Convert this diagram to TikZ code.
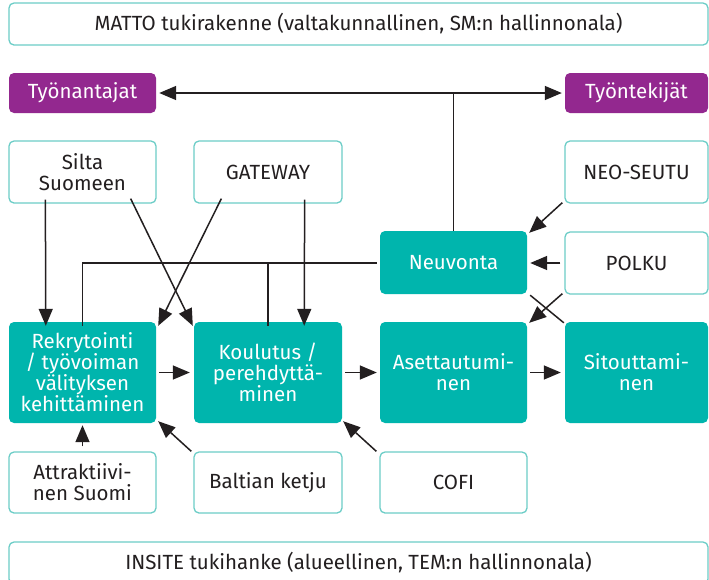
\documentclass[tikz,border=0pt]{standalone}
\usepackage{fontspec}
\setmainfont{Fira Sans}
\usetikzlibrary{arrows.meta,calc}
\definecolor{tealfill}{HTML}{00B5AD}
\definecolor{tealline}{HTML}{6CCDC7}
\definecolor{purp}{HTML}{93288F}
\definecolor{ink}{HTML}{231F20}
\begin{document}
\begin{tikzpicture}[x=1pt,y=-1pt,
  base/.style={rounded corners=5pt,align=center,inner sep=0pt,font=\fontsize{20.5}{21}\selectfont},
  frame/.style={base,draw=tealline,line width=1.3pt,fill=white,text=ink},
  stage/.style={base,fill=tealfill,text=white},
  party/.style={base,fill=purp,text=white},
  conn/.style={draw=ink,line width=1.5pt},
  arr/.style={conn,-{Triangle[length=17pt,width=14pt]}},
  darr/.style={conn,{Triangle[length=17pt,width=14pt]}-{Triangle[length=17pt,width=14pt]}}]
\useasboundingbox (0,0) rectangle (709,579);
\fill[white] (0,0) rectangle (709,579);
\node[frame,minimum width=699pt,minimum height=42pt] (matto) at (358.5,24) {MATTO tukirakenne (valtakunnallinen, SM:n hallinnonala)};
\node[party,minimum width=147pt,minimum height=40pt] (tyonantajat) at (82.5,93) {Työnantajat};
\node[party,minimum width=143pt,minimum height=40pt] (tyontekijat) at (636.5,93) {Työntekijät};
\node[frame,minimum width=147pt,minimum height=62pt] (silta) at (82.5,172) {Silta\\Suomeen};
\node[frame,minimum width=148pt,minimum height=62pt] (gateway) at (268,172) {GATEWAY};
\node[frame,minimum width=143pt,minimum height=62pt] (neo) at (636.5,172) {NEO-SEUTU};
\node[stage,minimum width=147pt,minimum height=63pt] (neuvonta) at (453.5,262.5) {Neuvonta};
\node[frame,minimum width=143pt,minimum height=62pt] (polku) at (636.5,263) {POLKU};
\node[stage,minimum width=147pt,minimum height=101pt] (rek) at (82.5,372.5) {Rekrytointi\\/ työvoiman\\välityksen\\kehittäminen};
\node[stage,minimum width=148pt,minimum height=101pt] (kou) at (268,372.5) {Koulutus /\\perehdyttä-\\minen};
\node[stage,minimum width=147pt,minimum height=101pt] (ase) at (453.5,372.5) {Asettautumi-\\nen};
\node[stage,minimum width=143pt,minimum height=101pt] (sit) at (636.5,372.5) {Sitouttami-\\nen};
\node[frame,minimum width=147pt,minimum height=61pt] (attr) at (82.5,482.5) {Attraktiivi-\\nen Suomi};
\node[frame,minimum width=148pt,minimum height=61pt] (balt) at (268,482.5) {Baltian ketju};
\node[frame,minimum width=147pt,minimum height=61pt] (cofi) at (453.5,482.5) {COFI};
\node[frame,minimum width=699pt,minimum height=42pt] (insite) at (358.5,563) {INSITE tukihanke (alueellinen, TEM:n hallinnonala)};
% top connectors
\draw[darr,shorten <=3pt,shorten >=3pt] (tyonantajat) -- (tyontekijat);
\draw[conn] (neuvonta.north) -- (neuvonta.north |- tyonantajat.east);
\coordinate (hl) at ([yshift=-0.5pt]neuvonta.west);
\draw[conn] ([xshift=-3pt]hl) -- (hl -| rek.north) -- ([yshift=-4pt]rek.north);
\draw[conn] (hl -| kou.north) -- ([yshift=-4pt]kou.north);
% inputs from top
\draw[arr] ([shift={(37pt,4pt)}]silta.south west) -- ([shift={(37pt,-4pt)}]rek.north west);
\draw[arr] ([shift={(-26pt,5pt)}]silta.south east) -- ([shift={(-1pt,-4pt)}]kou.north west);
\draw[arr] ([shift={(28pt,5pt)}]gateway.south west) -- ([shift={(2pt,-4pt)}]rek.north east);
\draw[arr] ([shift={(-38pt,4pt)}]gateway.south east) -- ([shift={(-38pt,-4pt)}]kou.north east);
\draw[arr] ([shift={(-2pt,1pt)}]neo.south west) -- ([shift={(2pt,-2pt)}]neuvonta.north east);
\draw[arr,shorten <=4pt,shorten >=3pt] (polku.west) -- (neuvonta.east |- polku.west);
\draw[arr] ([shift={(-2pt,1pt)}]polku.south west) -- ([shift={(2pt,-1pt)}]ase.north east);
\draw[conn] ([shift={(3pt,-1pt)}]neuvonta.south east) -- ([shift={(-1pt,-1pt)}]sit.north west);
% stage chain
\draw[arr,shorten <=3pt,shorten >=4pt] (rek) -- (kou);
\draw[arr,shorten <=3pt,shorten >=3pt] (kou) -- (ase);
\draw[arr,shorten <=3pt,shorten >=4pt] (ase) -- (sit);
% inputs from bottom
\draw[arr,shorten <=5pt,shorten >=2pt] (attr.north) -- (rek.south);
\draw[arr] ([shift={(-2pt,0pt)}]balt.north west) -- ([shift={(2pt,2pt)}]rek.south east);
\draw[arr] ([shift={(-3pt,0pt)}]cofi.north west) -- ([shift={(1pt,2pt)}]kou.south east);
\end{tikzpicture}
\end{document}
